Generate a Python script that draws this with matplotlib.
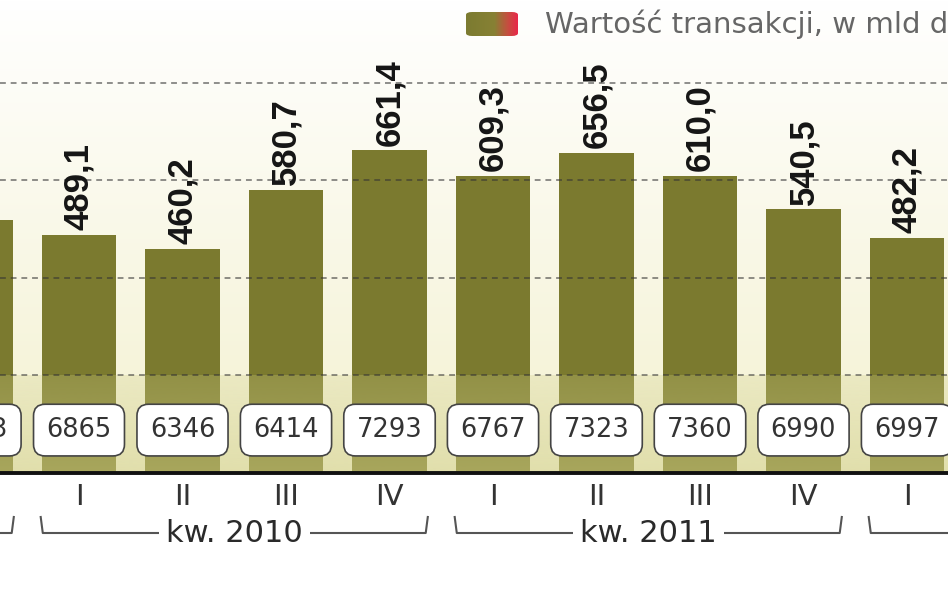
import numpy as np
import matplotlib
matplotlib.use("Agg")
import matplotlib.pyplot as plt
from matplotlib import transforms
from matplotlib.patches import FancyBboxPatch
from matplotlib.colors import LinearSegmentedColormap, to_rgb

# dane (widoczny fragment: IV kw. 2009 ... I kw. 2012)
quarters = ["IV", "I", "II", "III", "IV", "I", "II", "III", "IV", "I"]
values = [519.0, 489.1, 460.2, 580.7, 661.4, 609.3, 656.5, 610.0, 540.5, 482.2]
deals = [6983, 6865, 6346, 6414, 7293, 6767, 7323, 7360, 6990, 6997]
years = ["kw. 2009", "kw. 2010", "kw. 2011", "kw. 2012"]
year_first_bar = [-3, 1, 5, 9]
grid_values = [200, 400, 600, 800]
legend_label = "Wartość transakcji, w mld dol."

x = np.arange(len(values))
labels = [f"{v:.1f}".replace(".", ",") for v in values]

fig = plt.figure(figsize=(9.48, 5.93), dpi=100, facecolor="white")
y0 = (593 - 473) / 593
ax = fig.add_axes([0, y0, 1, 1 - y0])
xl, xr = 1 - 79 / 103.5, 1 + 869 / 103.5
ymax = 970
ax.set_xlim(xl, xr)
ax.set_ylim(0, ymax)
ax.axis("off")

# tlo - gradient od bieli do kremowego
yy = np.linspace(ymax, 0, 300)
c_top = np.array(to_rgb("#ffffff"))
c_mid = np.array(to_rgb("#f6f4da"))
t = np.clip((ymax - yy) / (ymax - 200), 0, 1)[:, None]
bg = c_top * (1 - t) + c_mid * t
ax.imshow(bg[:, None, :], extent=[xl, xr, 0, ymax], aspect="auto", zorder=0)

ax.bar(x, values, width=0.715, color="#7b7a2f", zorder=2)

# jasniejszy pas przy osi
yy2 = np.linspace(200, 0, 100)
alpha = 0.28 + 0.26 * (200 - yy2) / 200
over = np.zeros((100, 1, 4))
over[:, 0, :3] = to_rgb("#cfcd84")
over[:, 0, 3] = alpha
ax.imshow(over, extent=[xl, xr, 0, 200], aspect="auto", zorder=3)

for g in grid_values:
    ax.axhline(g, color="#333333", alpha=0.55, lw=1.4, ls=(0, (3, 2.5)), zorder=4)

ax.axhline(0, color="#111111", lw=2.8, zorder=6, clip_on=False)

for xi, v, lab in zip(x, values, labels):
    ax.text(xi, v + 10, lab, rotation=90, ha="center", va="bottom",
            fontsize=25, fontweight="bold", color="#151515",
            family=["Liberation Sans", "DejaVu Sans"], zorder=5)

for xi, d in zip(x, deals):
    ax.text(xi, 88, str(d), ha="center", va="center", fontsize=18.5,
            color="#333333", zorder=7,
            bbox=dict(boxstyle="round,pad=0.5,rounding_size=0.45",
                      fc="white", ec="#444444", lw=1.2))

# podpisy kwartalow i lat
tr = transforms.blended_transform_factory(ax.transData, fig.transFigure)
for xi, q in zip(x, quarters):
    ax.text(xi, 0.162, q, transform=tr, ha="center", va="center",
            fontsize=21, color="#333333", clip_on=False)

y_line = (593 - 533) / 593
y_tick = (593 - 517) / 593
for yr, first in zip(years, year_first_bar):
    a, b = first - 0.37, first + 3 + 0.37
    ax.plot([a, a + 0.02, b - 0.02, b], [y_tick, y_line, y_line, y_tick],
            transform=tr, color="#555555", lw=1.5, clip_on=False, zorder=1)
    ax.text((a + b) / 2, y_line, yr, transform=tr, ha="center", va="center",
            fontsize=22, color="#2a2a2a", clip_on=False, zorder=2,
            bbox=dict(fc="white", ec="none", pad=5))

# legenda
lax = fig.add_axes([466 / 948, (593 - 36) / 593, 52 / 948, 24 / 593])
cmap = LinearSegmentedColormap.from_list(
    "leg", [(0, "#7c7b31"), (0.55, "#878134"), (0.8, "#c4503f"), (1, "#e8284a")])
im = lax.imshow(np.linspace(0, 1, 100)[None, :], cmap=cmap, aspect="auto",
                extent=[0, 1, 0, 1])
clip = FancyBboxPatch((0, 0), 1, 1, boxstyle="round,pad=0,rounding_size=0.12",
                      transform=lax.transAxes, fc="none", ec="none")
lax.add_patch(clip)
im.set_clip_path(clip)
lax.axis("off")
fig.text(545 / 948, (593 - 24) / 593, legend_label, fontsize=21,
         color="#666666", va="center", ha="left")

fig.savefig("out.png", dpi=100, facecolor="white")
